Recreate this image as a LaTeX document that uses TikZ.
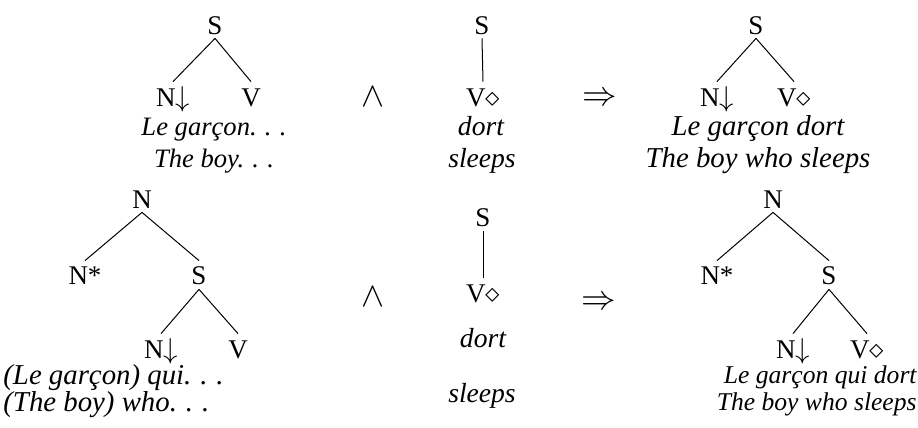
\documentclass[tikz,border=0pt]{standalone}
\usepackage{fontspec}
\setmainfont{Liberation Serif}
\usepackage{amsmath,amssymb}
\usetikzlibrary{positioning}
\newcommand{\gdots}{.\kern0.31em.\kern0.31em.}

\begin{document}
\begin{tikzpicture}[x=0.5pt,y=-0.5pt,font=\fontsize{13.5}{16}\selectfont]
\tikzstyle{cat}=[anchor=base,inner xsep=0pt,inner ysep=2pt,text height=10pt,text depth=0pt]
\tikzstyle{gloss}=[anchor=base,inner sep=0pt,font=\fontsize{14.4}{17}\selectfont\itshape]
\tikzstyle{glossleft}=[gloss,font=\fontsize{13.3}{16}\selectfont\itshape]
\tikzstyle{glossmid}=[gloss,font=\fontsize{13.8}{16}\selectfont\itshape]
\tikzstyle{glosssmall}=[gloss,font=\fontsize{12.8}{15}\selectfont\itshape]
\tikzstyle{conj}=[inner sep=0pt,font=\fontsize{16}{18}\selectfont]
\tikzstyle{impl}=[inner sep=0pt,font=\fontsize{17.5}{20}\selectfont]
\tikzstyle{branch}=[line width=0.5pt]
\useasboundingbox (0,0) rectangle (918,428);
% top row: initial tree
\node[cat] (t1S) at (215,34) {S};
\node[cat] (t1N) at (173,106) {N$\downarrow$};
\node[cat] (t1V) at (251,106) {V};
\node[glossleft] (t1fr) at (214,135) {Le garçon\gdots};
\node[glossleft] (t1en) at (214,167) {The boy\gdots};
\draw[branch] (t1S.south) -- (t1N.north);
\draw[branch] (t1S.south) -- (t1V.north);
\node[conj] (and1) at (373,97) {$\wedge$};
% top row: anchored verb
\node[cat] (t2S) at (482,34) {S};
\node[cat] (t2V) at (483,106) {V$\diamond$};
\node[glossmid] (t2fr) at (481,135) {dort};
\node[glossmid] (t2en) at (482,167) {sleeps};
\draw[branch] (t2S.south) -- (t2V.north);
\node[impl] (imp1) at (600,99) {$\Rightarrow$};
% top row: result
\node[cat] (t3S) at (756,34) {S};
\node[cat] (t3N) at (717,106) {N$\downarrow$};
\node[cat] (t3V) at (794,106) {V$\diamond$};
\node[gloss] (t3fr) at (758,135) {Le garçon dort};
\node[gloss] (t3en) at (758,167) {The boy who sleeps};
\draw[branch] (t3S.south) -- (t3N.north);
\draw[branch] (t3S.south) -- (t3V.north);
% bottom row: auxiliary tree
\node[cat] (b1N) at (142,208) {N};
\node[cat] (b1Nstar) at (85,285) {N*};
\node[cat] (b1S) at (199,285) {S};
\node[cat] (b1N2) at (161,358) {N$\downarrow$};
\node[cat] (b1V) at (238,358) {V};
\node[gloss,anchor=base west] (b1fr) at (3,384) {(Le garçon) qui\gdots};
\node[gloss,anchor=base west] (b1en) at (3,411) {(The boy) who\gdots};
\draw[branch] (b1N.south) -- (b1Nstar.north);
\draw[branch] (b1N.south) -- (b1S.north);
\draw[branch] (b1S.south) -- (b1N2.north);
\draw[branch] (b1S.south) -- (b1V.north);
\node[conj] (and2) at (373,297) {$\wedge$};
% bottom row: anchored verb
\node[cat] (b2S) at (483,227) {S};
\node[cat] (b2V) at (483,302) {V$\diamond$};
\node[glossmid] (b2fr) at (483,347) {dort};
\node[glossmid] (b2en) at (482,402) {sleeps};
\draw[branch] (b2S.south) -- (b2V.north);
\node[impl] (imp2) at (599,303) {$\Rightarrow$};
% bottom row: result
\node[cat] (b3N) at (773,208) {N};
\node[cat] (b3Nstar) at (717,285) {N*};
\node[cat] (b3S) at (829,285) {S};
\node[cat] (b3N2) at (793,358) {N$\downarrow$};
\node[cat] (b3V) at (867,358) {V$\diamond$};
\node[glosssmall,anchor=base east] (b3fr) at (917,383) {Le garçon qui dort};
\node[glosssmall,anchor=base east] (b3en) at (917,410) {The boy who sleeps};
\draw[branch] (b3N.south) -- (b3Nstar.north);
\draw[branch] (b3N.south) -- (b3S.north);
\draw[branch] (b3S.south) -- (b3N2.north);
\draw[branch] (b3S.south) -- (b3V.north);
\end{tikzpicture}
\end{document}
